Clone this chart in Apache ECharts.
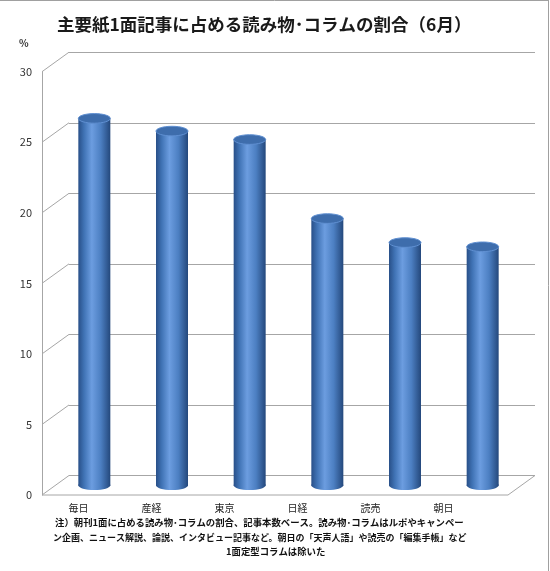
<!DOCTYPE html>
<html>
<head>
<meta charset="utf-8">
<title>主要紙1面記事に占める読み物･コラムの割合</title>
<script src="https://cdn.jsdelivr.net/npm/echarts@6.0.0/dist/echarts.min.js"></script>
<style>
  html, body { margin: 0; padding: 0; background: #fff; }
  #main { width: 550px; height: 571px; }
</style>
</head>
<body>
<div id="main"></div>
<script>
// データ
var categories = ['毎日', '産経', '東京', '日経', '読売', '朝日'];
var shares = [26.0, 25.1, 24.5, 18.9, 17.2, 16.9];
var yTicks = [0, 5, 10, 15, 20, 25, 30];
var noteLines = [
    '注）朝刊1面に占める読み物･コラムの割合、記事本数ベース。読み物･コラムはルポやキャンペー',
    'ン企画、ニュース解説、論説、インタビュー記事など。朝日の「天声人語」や読売の「編集手帳」など',
    '1面定型コラムは除いた'
];

var FONT = '"Noto Sans CJK JP", "Noto Sans", sans-serif';
// 奥行き (3D風のずらし量)
var DX = 27, DY = 19.5;
var front = {left: 42, right: 42, top: 71.7, bottom: 76};

function shifted(k) {
    return {
        left: front.left + DX * k,
        right: front.right - DX * k,
        top: front.top - DY * k,
        bottom: front.bottom + DY * k
    };
}

var myChart = echarts.init(document.getElementById('main'));

function hiddenCat(gi) {
    return {type: 'category', gridIndex: gi, data: categories, show: false};
}
function hiddenVal(gi) {
    return {type: 'value', gridIndex: gi, min: 0, max: 30, interval: 5, show: false};
}

// 円柱
function renderCylinder(params, api) {
    var top = api.coord([api.value(0), api.value(1)]);
    var base = api.coord([api.value(0), 0]);
    var rx = 16, ry = 4.8;
    var body = {
        type: 'linear', x: 0, y: 0, x2: 1, y2: 0,
        colorStops: [
            {offset: 0, color: '#284f88'},
            {offset: 0.18, color: '#4073b5'},
            {offset: 0.42, color: '#6c9de0'},
            {offset: 0.7, color: '#4c7fc2'},
            {offset: 1, color: '#24487c'}
        ]
    };
    return {
        type: 'group',
        children: [
            {type: 'ellipse', shape: {cx: base[0], cy: base[1], rx: rx, ry: ry}, style: {fill: body}},
            {type: 'rect', shape: {x: base[0] - rx, y: top[1], width: rx * 2, height: base[1] - top[1]}, style: {fill: body}},
            {type: 'ellipse', shape: {cx: top[0], cy: top[1], rx: rx, ry: ry},
                style: {fill: '#3e6dac', stroke: '#6090d2', lineWidth: 1}}
        ]
    };
}

// 手前の斜線と床
function renderFrame(params, api) {
    var cs = params.coordSys;
    var y = api.coord([0, api.value(1)])[1];
    var ls = {stroke: '#a6a6a6', lineWidth: 1};
    var kids = [
        {type: 'line', shape: {x1: cs.x, y1: y, x2: cs.x + DX, y2: y - DY}, style: ls}
    ];
    if (api.value(1) === 0) {
        kids.push({type: 'line', shape: {x1: cs.x, y1: y, x2: cs.x + cs.width, y2: y}, style: ls});
        kids.push({type: 'line', shape: {x1: cs.x + cs.width, y1: y, x2: cs.x + cs.width + DX, y2: y - DY}, style: ls});
    }
    return {type: 'group', children: kids};
}

option = {
    animation: false,
    backgroundColor: '#fff',
    title: {
        text: '主要紙1面記事に占める読み物･コラムの割合（6月）',
        left: 52,
        top: 11,
        textStyle: {fontFamily: FONT, fontSize: 17.5, fontWeight: 'bold', color: '#1a1a1a'}
    },
    grid: [
        front,
        shifted(0.5),
        shifted(1),
        {left: 42, width: 438, top: front.top, bottom: front.bottom}
    ],
    xAxis: [
        hiddenCat(0),
        hiddenCat(1),
        hiddenCat(2),
        {
            type: 'category', gridIndex: 3, data: categories,
            axisLine: {show: false}, axisTick: {show: false},
            axisLabel: {fontFamily: FONT, fontSize: 10, color: '#222', margin: 8}
        }
    ],
    yAxis: [
        {
            type: 'value', gridIndex: 0, min: 0, max: 30, interval: 5,
            axisLine: {show: true, lineStyle: {color: '#a6a6a6'}},
            axisTick: {show: false},
            splitLine: {show: false},
            axisLabel: {fontFamily: FONT, fontSize: 11, color: '#333', margin: 10}
        },
        hiddenVal(1),
        {
            type: 'value', gridIndex: 2, min: 0, max: 30, interval: 5,
            axisLine: {show: false}, axisTick: {show: false}, axisLabel: {show: false},
            splitLine: {show: true, lineStyle: {color: '#a6a6a6', width: 1}}
        },
        hiddenVal(3)
    ],
    series: [
        {
            type: 'custom', xAxisIndex: 0, yAxisIndex: 0,
            data: yTicks.map(function (v) { return [0, v]; }),
            renderItem: renderFrame, silent: true, z: 1
        },
        {
            type: 'custom', xAxisIndex: 1, yAxisIndex: 1,
            data: shares.map(function (v, i) { return [i, v]; }),
            renderItem: renderCylinder, z: 3
        }
    ],
    graphic: [
        {type: 'text', left: 19, top: 38, style: {text: '%', font: 'bold 10px ' + FONT, fill: '#333'}},
        {type: 'text', left: 55, top: 518, style: {text: noteLines[0], font: 'bold 9.4px ' + FONT, fill: '#111'}},
        {type: 'text', left: 53, top: 533, style: {text: noteLines[1], font: 'bold 9px ' + FONT, fill: '#111'}},
        {type: 'text', left: 226, top: 547, style: {text: noteLines[2], font: 'bold 9.4px ' + FONT, fill: '#111'}},
        {type: 'line', shape: {x1: 0, y1: 0.5, x2: 549, y2: 0.5}, style: {stroke: '#a0a0a0', lineWidth: 1}},
        {type: 'line', shape: {x1: 548.5, y1: 0, x2: 548.5, y2: 571}, style: {stroke: '#a0a0a0', lineWidth: 1}}
    ]
};

myChart.setOption(option);
</script>
</body>
</html>
